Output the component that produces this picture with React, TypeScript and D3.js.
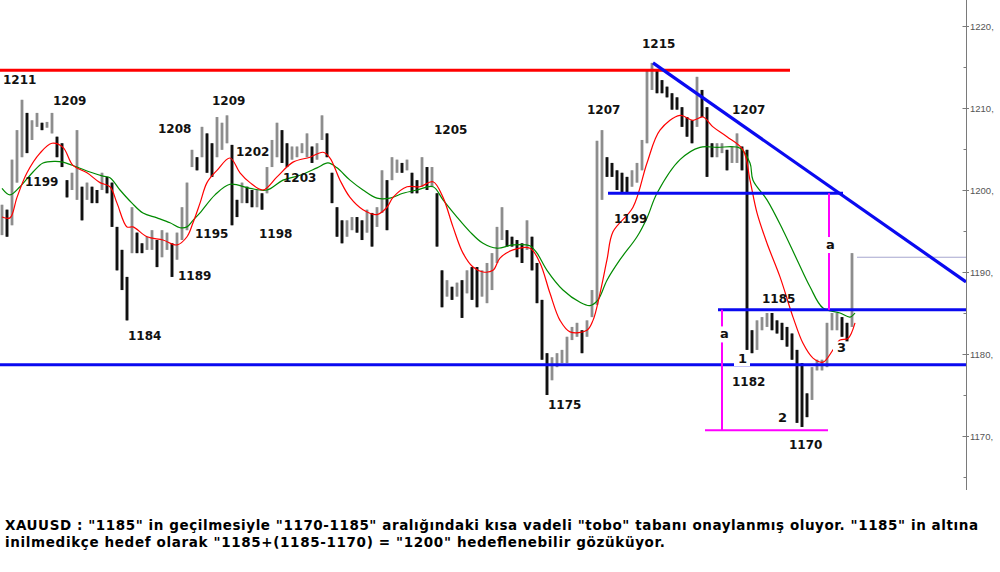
import React from "react";
import * as d3 from "d3";

// ---- Price bars (XAUUSD), one entry per bar: low / high ----
const lows: number[] = [
  1194.5, 1194.3, 1195.7, 1200.9, 1204.0, 1204.5, 1206.1, 1207.7, 1207.3, 1207.6,
  1206.9, 1204.0, 1202.8, 1199.1, 1200.0, 1198.8, 1196.3, 1198.8, 1198.4, 1198.4,
  1200.0, 1199.6, 1195.5, 1190.2, 1187.8, 1184.1, 1192.3, 1192.3, 1192.3, 1192.7,
  1192.7, 1190.6, 1191.8, 1192.7, 1189.4, 1191.5, 1193.9, 1195.1, 1202.8, 1202.4,
  1204.0, 1202.1, 1201.6, 1204.0, 1204.9, 1205.7, 1195.7, 1196.7, 1198.4, 1198.4,
  1197.9, 1197.9, 1197.6, 1199.6, 1202.8, 1204.0, 1203.3, 1202.8, 1203.7, 1204.0,
  1204.5, 1204.0, 1203.3, 1203.7, 1206.1, 1204.0, 1198.4, 1194.3, 1193.5, 1194.3,
  1195.1, 1194.8, 1193.9, 1194.8, 1193.1, 1195.5, 1197.2, 1195.1, 1201.2, 1202.1,
  1202.1, 1202.4, 1199.6, 1199.6, 1200.4, 1200.0, 1200.4, 1193.1, 1185.7, 1187.0,
  1186.6, 1187.0, 1184.4, 1187.4, 1186.6, 1185.7, 1187.0, 1186.2, 1187.8, 1191.1,
  1193.9, 1193.1, 1193.1, 1191.8, 1191.1, 1192.7, 1190.2, 1186.2, 1179.3, 1175.0,
  1176.8, 1178.4, 1178.9, 1178.9, 1181.7, 1182.1, 1180.1, 1182.1, 1184.5, 1186.0,
  1198.8, 1201.6, 1201.6, 1200.0, 1199.6, 1199.6, 1200.4, 1200.9, 1202.4, 1205.7,
  1212.2, 1211.8, 1211.8, 1211.3, 1209.8, 1209.8, 1207.7, 1206.5, 1205.7, 1207.7,
  1208.9, 1201.6, 1204.0, 1204.0, 1204.5, 1202.4, 1203.3, 1203.3, 1202.4, 1180.5,
  1180.1, 1180.5, 1182.9, 1183.3, 1182.9, 1182.5, 1181.7, 1180.9, 1179.3, 1171.6,
  1171.1, 1172.3, 1174.4, 1178.0, 1178.0, 1178.4, 1182.9, 1182.9, 1182.1, 1180.9,
  1183.3,
];
const highs: number[] = [
  1198.2, 1197.6, 1203.7, 1207.3, 1211.0, 1209.4, 1208.5, 1209.4, 1208.2, 1208.3,
  1209.4, 1206.5, 1205.7, 1201.2, 1202.1, 1207.3, 1200.4, 1200.9, 1200.4, 1200.0,
  1202.1, 1201.6, 1200.9, 1195.5, 1192.7, 1189.4, 1197.9, 1194.8, 1193.5, 1194.3,
  1195.1, 1193.9, 1195.1, 1194.8, 1193.5, 1194.8, 1197.9, 1200.9, 1204.9, 1204.0,
  1207.7, 1206.9, 1205.7, 1208.9, 1208.2, 1209.1, 1205.5, 1198.8, 1200.9, 1200.4,
  1200.0, 1200.0, 1199.6, 1202.8, 1206.1, 1208.2, 1207.3, 1205.7, 1205.3, 1205.3,
  1205.7, 1206.9, 1205.3, 1205.7, 1209.1, 1206.9, 1202.1, 1197.9, 1196.3, 1196.3,
  1196.7, 1196.7, 1196.3, 1197.6, 1197.2, 1197.9, 1202.4, 1201.2, 1204.0, 1203.7,
  1203.3, 1203.7, 1202.1, 1201.2, 1204.0, 1202.8, 1202.8, 1199.6, 1190.2, 1189.0,
  1188.2, 1188.7, 1189.0, 1190.2, 1190.6, 1190.6, 1190.2, 1191.1, 1192.3, 1195.5,
  1197.9, 1195.1, 1194.3, 1193.9, 1193.5, 1196.3, 1194.3, 1191.1, 1186.6, 1180.1,
  1179.6, 1180.1, 1180.5, 1182.1, 1183.3, 1183.8, 1182.9, 1184.1, 1187.8, 1206.0,
  1207.3, 1204.0, 1203.3, 1202.4, 1202.1, 1201.6, 1202.4, 1203.3, 1206.1, 1214.6,
  1215.5, 1214.6, 1213.4, 1212.6, 1211.8, 1211.3, 1210.1, 1208.9, 1208.5, 1213.8,
  1212.2, 1210.1, 1205.7, 1205.7, 1205.7, 1204.9, 1205.3, 1206.9, 1205.3, 1204.9,
  1182.9, 1184.1, 1184.5, 1185.0, 1185.0, 1184.1, 1183.8, 1183.3, 1182.5, 1180.5,
  1178.9, 1175.2, 1178.4, 1179.3, 1179.3, 1183.8, 1185.0, 1185.0, 1184.5, 1183.8,
  1192.3,
];

// ---- Moving averages: [bar index, value] samples ----
const maFast: [number, number][] = [
  [0, 1196.7], [1.6, 1196.6], [3, 1199.1], [5, 1202.1], [7.6, 1204.5], [10, 1205.7],
  [12.2, 1205.2], [14.2, 1203.0], [17, 1202.1], [19.6, 1200.9], [21.6, 1200.4],
  [23, 1198.4], [25, 1195.5], [26.2, 1195.5], [29, 1194.3], [32.2, 1193.9],
  [35, 1193.3], [37, 1194.3], [38.2, 1196.0], [39.6, 1198.4], [41, 1200.9],
  [43, 1202.4], [45.6, 1203.9], [47.6, 1202.1], [49.6, 1200.9], [52.2, 1200.0],
  [55, 1201.6], [58.2, 1203.4], [61.6, 1204.0], [64.2, 1204.6], [65.6, 1203.9],
  [67.6, 1201.2], [69.6, 1199.1], [72.2, 1197.6], [75, 1197.0], [77, 1197.9],
  [78.2, 1199.1], [81, 1200.4], [83.6, 1200.4], [86.2, 1201.0], [88.2, 1199.1],
  [90.2, 1195.5], [92.2, 1192.3], [94.2, 1190.6], [96.2, 1190.0], [98.2, 1190.2],
  [99.6, 1191.7], [102.2, 1192.7], [105.6, 1192.9], [107.6, 1191.1], [109.6, 1187.4],
  [111.6, 1184.1], [113.6, 1182.7], [117, 1182.9], [118.2, 1184.1], [119.6, 1187.4],
  [121, 1191.5], [122.2, 1194.9], [126.2, 1197.9], [129, 1203.3], [131.6, 1207.3],
  [135.6, 1209.1], [138.2, 1208.5], [140.2, 1208.9], [142.2, 1207.7], [145, 1206.5],
  [148.2, 1204.9], [149.6, 1201.2], [151, 1197.2], [153, 1193.5], [155.6, 1189.4],
  [158.2, 1184.5], [160.2, 1181.3], [162.2, 1179.5], [164.2, 1179.0], [166.2, 1180.5],
  [167.6, 1181.7], [169.2, 1181.9], [170.6, 1183.8],
];
const maSlow: [number, number][] = [
  [0, 1200.2], [1.6, 1199.4], [3.6, 1200.4], [6.2, 1202.2], [8.2, 1203.3],
  [10.6, 1203.5], [12.2, 1203.4], [15, 1202.8], [17.6, 1202.2], [20.2, 1201.7],
  [21.6, 1201.5], [23.6, 1200.0], [26, 1198.4], [28.2, 1197.2], [31, 1196.6],
  [33.6, 1196.0], [35.6, 1195.4], [37, 1195.5], [38.2, 1196.3], [39.6, 1197.2],
  [42.6, 1199.4], [45.6, 1200.7], [49.6, 1200.2], [53, 1200.0], [56.2, 1201.2],
  [59.6, 1201.8], [63, 1202.7], [65.2, 1203.3], [67, 1202.7], [69.6, 1201.2],
  [72.2, 1200.0], [75, 1199.0], [77.6, 1199.0], [80.2, 1199.6], [83, 1200.0],
  [86.2, 1200.4], [88.2, 1198.8], [91, 1196.7], [93.6, 1194.9], [96.2, 1193.5],
  [99, 1192.9], [102.2, 1193.3], [105.6, 1193.2], [107, 1192.3], [109, 1190.2],
  [112.2, 1187.8], [115.6, 1186.3], [117.6, 1185.9], [119.2, 1186.6], [121, 1189.0],
  [123.6, 1191.5], [127, 1194.3], [129, 1196.6], [131, 1199.6], [135.6, 1203.7],
  [139.6, 1205.2], [143, 1205.2], [147.6, 1205.1], [149.6, 1203.3], [150.2, 1201.2],
  [153, 1198.8], [156.2, 1195.1], [159, 1191.5], [161.6, 1188.2], [164.2, 1185.6],
  [167.6, 1185.0], [169.6, 1184.5], [170.6, 1185.0],
];

// ---- Drawn levels / trendlines: [startIndex, endIndex, value] ----
const redLevels: [number, number, number][] = [[-0.4, 157.6, 1214.6]];
const blueLevels: [number, number, number][] = [
  [-0.4, 193, 1178.7],
  [143.2, 193, 1185.4],
  [121.2, 168.2, 1199.6],
];
const trendLine: [number, number][] = [[130.2, 1215.5], [192.8, 1188.8]];
const magentaVertical: [number, number, number][] = [
  [144, 1170.7, 1185.4],
  [165.4, 1185.4, 1199.6],
];
const magentaHorizontal: [number, number, number][] = [[140.6, 165.2, 1170.7]];
const lastPrice = 1191.8;

// ---- Text annotations: [text, bar index, price] ----
const priceLabels: [string, number, number][] = [
  ["1211", 0.2, 1212.9], ["1209", 10.2, 1210.4], ["1199", 4.6, 1200.5],
  ["1208", 31.2, 1207.0], ["1184", 25.2, 1181.7], ["1189", 35.2, 1189.0],
  ["1195", 38.6, 1194.2], ["1209", 42, 1210.4], ["1202", 46.8, 1204.1],
  ["1198", 51.4, 1194.1], ["1203", 56.2, 1201.0], ["1205", 86.4, 1206.8],
  ["1175", 109.2, 1173.3], ["1207", 117, 1209.3], ["1215", 128, 1217.3],
  ["1199", 122.4, 1196.0], ["1207", 146, 1209.3], ["1185", 152, 1186.2],
  ["1182", 146, 1176.1], ["1170", 157.4, 1168.4],
];
const waveLabels: [string, number, number][] = [
  ["1", 147.2, 1178.9], ["2", 155.2, 1171.7], ["3", 167, 1180.2],
];
const aLabels: [string, number, number][] = [
  ["a", 143.6, 1181.9], ["a", 164.8, 1192.8],
];
const yTicks: number[] = [1170, 1180, 1190, 1200, 1210, 1220];
const yMinorTicks: number[] = [1165, 1175, 1185, 1195, 1205, 1215];

const noteLines: string[] = [
  'XAUUSD : "1185" in geçilmesiyle "1170-1185" aralığındaki kısa vadeli "tobo" tabanı onaylanmış oluyor. "1185" in altına',
  'inilmedikçe hedef olarak "1185+(1185-1170) = "1200" hedeflenebilir gözüküyor.',
];
const noteWidths: number[] = [973, 660];

const W = 1000;
const H = 572;
const AXIS_X = 966.5;

export default function App() {
  const x = d3.scaleLinear().domain([0, lows.length - 1]).range([2, 852]);
  const y = d3.scaleLinear().domain([1170, 1220]).range([436, 26]);

  const maLine = d3
    .line<[number, number]>()
    .x((d) => x(d[0]))
    .y((d) => y(d[1]))
    .curve(d3.curveCatmullRom.alpha(0.5));

  const labelFont = "'DejaVu Sans', Verdana, sans-serif";

  return (
    <svg
      width={W}
      height={H}
      viewBox={`0 0 ${W} ${H}`}
      style={{ position: "absolute", left: 0, top: 0, background: "#fff" }}
    >
      <rect x={0} y={0} width={W} height={H} fill="#fff" />

      {/* price bars */}
      <g>
        {lows.map((lo, i) => {
          const hi = highs[i];
          const mid = (lo + hi) / 2;
          const prevMid = i > 0 ? (lows[i - 1] + highs[i - 1]) / 2 : mid;
          const down = mid < prevMid;
          return (
            <g key={i}>
              <rect
                x={x(i) - 1.5}
                y={y(hi)}
                width={3}
                height={Math.max(1, y(lo) - y(hi))}
                fill={down ? "#222" : "#a5a5a5"}
              />
              <rect
                x={x(i) - 0.5}
                y={y(hi)}
                width={1}
                height={Math.max(1, y(lo) - y(hi))}
                fill={down ? "#000" : "#777"}
              />
            </g>
          );
        })}
      </g>

      {/* moving averages */}
      <path d={maLine(maSlow) || ""} fill="none" stroke="#008a00" strokeWidth={1.2} />
      <path d={maLine(maFast) || ""} fill="none" stroke="#ff0000" strokeWidth={1.2} />

      {/* last price line */}
      <line
        x1={857}
        x2={AXIS_X}
        y1={y(lastPrice)}
        y2={y(lastPrice)}
        stroke="#a6a6cf"
        strokeWidth={1}
      />

      {/* levels */}
      {redLevels.map((d, i) => (
        <line key={"r" + i} x1={Math.max(0, x(d[0]))} x2={x(d[1])} y1={y(d[2])} y2={y(d[2])} stroke="#ff0000" strokeWidth={3} />
      ))}
      {blueLevels.map((d, i) => (
        <line key={"b" + i} x1={Math.max(0, x(d[0]))} x2={Math.min(AXIS_X, x(d[1]))} y1={y(d[2])} y2={y(d[2])} stroke="#0a0af0" strokeWidth={3} />
      ))}
      <line
        x1={x(trendLine[0][0])}
        y1={y(trendLine[0][1])}
        x2={Math.min(AXIS_X, x(trendLine[1][0]))}
        y2={y(trendLine[1][1])}
        stroke="#0a0af0"
        strokeWidth={3.2}
      />
      {magentaVertical.map((d, i) => (
        <line key={"mv" + i} x1={x(d[0])} x2={x(d[0])} y1={y(d[1])} y2={y(d[2])} stroke="#ff00ff" strokeWidth={2} />
      ))}
      {magentaHorizontal.map((d, i) => (
        <line key={"mh" + i} x1={x(d[0])} x2={x(d[1])} y1={y(d[2])} y2={y(d[2])} stroke="#ff00ff" strokeWidth={2} />
      ))}

      {/* price labels */}
      <g fontFamily={labelFont} fontWeight="bold" fontSize={12} fill="#111">
        {priceLabels.map((d, i) => (
          <text key={"p" + i} x={x(d[1])} y={y(d[2])}>
            {d[0]}
          </text>
        ))}
        {waveLabels.map((d, i) => (
          <g key={"w" + i}>
            <rect x={x(d[1]) - 4} y={y(d[2]) - 11} width={16} height={14} fill="#fff" />
            <text x={x(d[1])} y={y(d[2])} fontSize={13}>
              {d[0]}
            </text>
          </g>
        ))}
        {aLabels.map((d, i) => (
          <g key={"a" + i}>
            <rect x={x(d[1]) - 1} y={y(d[2]) - 12} width={10} height={16} fill="#fff" />
            <text x={x(d[1])} y={y(d[2])} fontSize={13}>
              {d[0]}
            </text>
          </g>
        ))}
      </g>

      {/* right price axis */}
      <line x1={AXIS_X} x2={AXIS_X} y1={0} y2={490} stroke="#7a7a7a" strokeWidth={1} />
      {yTicks.map((t) => (
        <g key={"t" + t}>
          <line x1={962.5} x2={969} y1={y(t) + 0.5} y2={y(t) + 0.5} stroke="#7a7a7a" />
          <text
            x={970}
            y={y(t) + 3.5}
            fontFamily="'Liberation Sans', Arial, sans-serif"
            fontSize={9.5}
            fill="#555"
          >
            {t + ","}
          </text>
        </g>
      ))}
      {yMinorTicks.map((t) => (
        <line key={"m" + t} x1={963.5} x2={AXIS_X} y1={y(t) + 0.5} y2={y(t) + 0.5} stroke="#7a7a7a" />
      ))}

      {/* commentary */}
      <g fontFamily={labelFont} fontWeight="bold" fontSize={13.5} fill="#000">
        {noteLines.map((line, i) => (
          <text
            key={"n" + i}
            x={5}
            y={530 + i * 17}
            textLength={noteWidths[i]}
            lengthAdjust="spacing"
          >
            {line}
          </text>
        ))}
      </g>
    </svg>
  );
}
